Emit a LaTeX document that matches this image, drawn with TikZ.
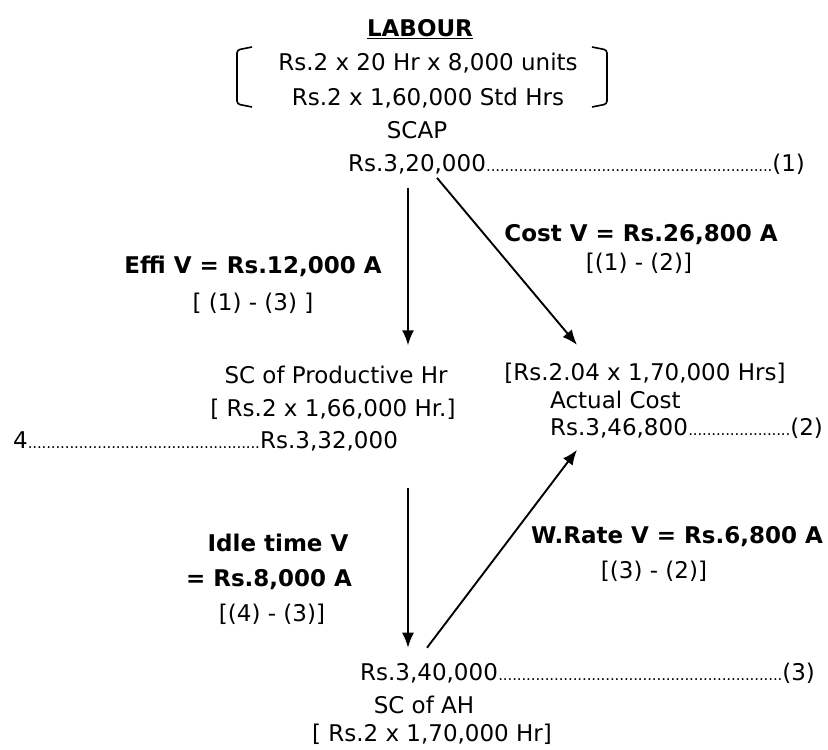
\documentclass[tikz,border=0pt]{standalone}
\usepackage{fontspec}
\setmainfont{DejaVu Sans}
\usepackage{tikz}
\usetikzlibrary{arrows.meta, positioning}
\newcommand{\fs}{\fontsize{23}{28}\selectfont}
\newcommand{\leaderdots}[1]{\hbox to #1{\xleaders\hbox to 4.6pt{\hss\fontsize{15}{15}\selectfont.\hss}\hfill}}
\tikzstyle{txt}      = [inner sep=0pt, font=\fs, anchor=base]
\tikzstyle{varlabel} = [txt, font=\fs\bfseries]
\tikzstyle{arrow}    = [line width=1.9pt, -{Latex[length=15pt,width=12pt]}]
\tikzstyle{bracket}  = [line width=1.6pt, rounded corners=3pt]

\begin{document}
\begin{tikzpicture}[x=1pt, y=-1pt]
  \useasboundingbox (0,0) rectangle (828,750);
  % standard cost for actual production
  \node[varlabel] (title) at (420,36) {\underline{LABOUR}};
  \node[txt] (std1) at (428,70) {Rs.2 x 20 Hr x 8,000 units};
  \node[txt] (std2) at (428,105) {Rs.2 x 1,60,000 Std Hrs};
  \draw[bracket] (252,47) -- (237,50) -- (237,104) -- (252,107);
  \draw[bracket] (592,47) -- (607,50) -- (607,104) -- (592,107);
  \node[txt] (scap) at (417,138) {SCAP};
  \node[txt, anchor=base west] (v1) at (348,171) {Rs.3,20,000};
  \node[txt, anchor=base west] (lead1) at (v1.base east) {\leaderdots{286pt}(1)};

  % variances
  \node[varlabel] (costv) at (641,241) {Cost V = Rs.26,800 A};
  \node[txt]      (costf) at (639,270) {[(1) - (2)]};
  \node[varlabel] (effiv) at (253,273) {Effi V = Rs.12,000 A};
  \node[txt]      (effif) at (253,310) {[ (1) - (3) ]};

  % productive hours
  \node[txt] (prod1) at (336,383) {SC of Productive Hr};
  \node[txt] (prod2) at (333,416) {[ Rs.2 x 1,66,000 Hr.]};
  \node[txt, anchor=base west] (v4) at (260,448) {Rs.3,32,000};
  \node[txt, anchor=base east] (lead4) at (v4.base west) {4\leaderdots{232pt}};

  % actual cost
  \node[txt] (act1) at (645,380) {[Rs.2.04 x 1,70,000 Hrs]};
  \node[txt, anchor=base west] (act2) at (550,408) {Actual Cost};
  \node[txt, anchor=base west] (v2) at (550,435) {Rs.3,46,800};
  \node[txt, anchor=base west] (lead2) at (v2.base east) {\leaderdots{102pt}(2)};

  \node[varlabel] (idle1) at (278,551) {Idle time V};
  \node[varlabel] (idle2) at (269,586) {= Rs.8,000 A};
  \node[txt]      (idle3) at (272,621) {[(4) - (3)]};
  \node[varlabel] (wr1) at (677,543) {W.Rate V = Rs.6,800 A};
  \node[txt]      (wr2) at (654,578) {[(3) - (2)]};

  % actual hours
  \node[txt, anchor=base west] (v3) at (360,680) {Rs.3,40,000};
  \node[txt, anchor=base west] (lead3) at (v3.base east) {\leaderdots{284pt}(3)};
  \node[txt] (ah1) at (424,713) {SC of AH};
  \node[txt] (ah2) at (432,741) {[ Rs.2 x 1,70,000 Hr]};

  \coordinate (a1) at ([xshift=60pt]v1.south west);
  \draw[arrow, shorten <=14pt, shorten >=20pt] (a1) -- (a1 |- prod1.north);
  \draw[arrow] ([xshift=89pt,yshift=-4pt]v1.south west) -- ([xshift=-68pt,yshift=17.5pt]act1.north);
  \draw[arrow, shorten <=37pt, shorten >=15pt] (a1 |- v4.south) -- (a1 |- v3.north);
  \draw[arrow] ([xshift=67pt,yshift=15pt]v3.north west) -- ([xshift=27pt,yshift=-12pt]v2.south west);
\end{tikzpicture}
\end{document}
